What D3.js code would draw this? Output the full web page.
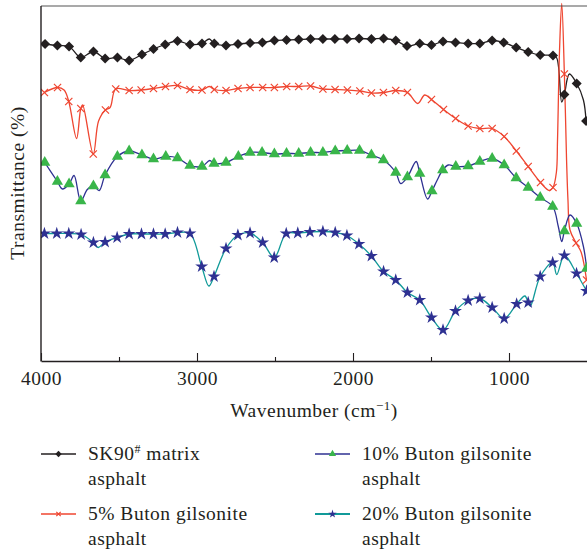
<!DOCTYPE html>
<html>
<head>
<meta charset="utf-8">
<script src="https://cdn.jsdelivr.net/npm/d3@7"></script>
<style>
  body { margin: 0; background: #fff; }
  text { font-family: "Liberation Serif", "DejaVu Serif", serif; fill: #231f20; letter-spacing: 0.5px; }
</style>
</head>
<body>
<div id="chart"></div>
<script>
// [wavenumber, transmittance]; marks carry a symbol, extra are unmarked curve points
let sk90Marks = [[3974,63.4],[3895,63.1],[3820,62.9],[3745,60.7],[3664,61.9],[3589,60.5],[3510,60.7],[3435,60.1],[3353,61.3],[3279,62.4],[3204,63.3],[3125,64.0],[3045,63.3],[2968,63.5],[2889,63.5],[2814,63.1],[2737,63.4],[2660,63.6],[2581,63.7],[2504,64.1],[2426,64.2],[2348,64.3],[2272,64.4],[2193,64.4],[2116,64.4],[2038,64.4],[1961,64.5],[1882,64.4],[1804,64.5],[1726,64.1],[1654,63.0],[1572,63.5],[1497,63.2],[1423,63.9],[1343,63.7],[1262,63.5],[1187,63.5],[1108,64.1],[1034,63.7],[954,62.7],[877,61.8],[800,61.2],[718,61.1],[645,53.3],[566,55.5],[506,48.0]];
let sk90Extra = [[2921,64.4],[694,60.6],[662,51.8],[613,57.4],[523,52.2]];

let bg5Marks = [[3978,53.7],[3894,54.7],[3822,51.9],[3745,50.5],[3665,41.4],[3587,50.2],[3521,54.4],[3435,54.1],[3358,54.2],[3279,54.5],[3202,54.9],[3125,55.1],[3045,54.3],[2968,54.2],[2889,54.3],[2814,54.1],[2737,54.5],[2660,54.7],[2579,54.7],[2504,54.7],[2425,54.9],[2348,54.9],[2272,55.0],[2193,54.4],[2115,54.3],[2036,54.2],[1956,54.0],[1882,53.6],[1805,53.7],[1726,54.1],[1651,53.7],[1497,52.3],[1420,50.3],[1342,48.5],[1262,47.0],[1187,46.5],[1108,46.5],[1031,44.9],[953,42.0],[877,38.9],[798,35.7],[718,34.7],[645,57.4],[570,23.6],[503,16.2]];
let bg5Extra = [[3852,54.2],[3772,44.5],[3733,51.2],[3631,48.0],[3557,50.7],[2921,54.9],[1585,51.5],[1540,53.2],[742,34.1],[696,37.8],[689,44.2],[676,62.2],[662,71.5],[631,40.2],[622,32.2],[609,26.2],[538,21.8]];

let bg10Marks = [[3976,39.7],[3895,35.9],[3820,35.4],[3745,32.0],[3664,35.0],[3589,37.2],[3510,40.9],[3435,42.0],[3353,41.2],[3279,40.4],[3200,40.9],[3125,40.6],[3045,39.1],[2968,38.9],[2891,39.5],[2814,39.7],[2735,40.9],[2660,41.7],[2583,41.7],[2504,41.4],[2426,41.5],[2348,41.5],[2272,41.7],[2193,41.7],[2114,42.0],[2037,42.1],[1958,42.1],[1882,41.2],[1805,40.2],[1726,37.7],[1651,36.8],[1572,37.5],[1494,34.0],[1425,38.2],[1341,38.9],[1262,39.0],[1187,39.9],[1108,40.5],[1031,39.2],[954,36.6],[877,34.7],[800,32.7],[720,30.9],[645,26.0],[566,27.5],[502,18.5]];
let bg10Extra = [[3863,34.4],[3788,37.1],[3703,34.3],[3627,34.1],[2918,40.1],[1694,35.5],[1595,39.9],[1522,32.4],[1463,36.0],[1389,39.2],[684,26.9],[662,23.9],[609,29.2],[523,22.9]];

let bg20Marks = [[3978,25.5],[3899,25.5],[3822,25.5],[3743,25.3],[3664,23.7],[3589,23.8],[3512,24.7],[3435,25.4],[3356,25.4],[3279,25.4],[3204,25.4],[3125,25.7],[3045,25.5],[2970,18.9],[2891,16.9],[2814,22.5],[2738,25.2],[2660,25.6],[2579,23.7],[2505,20.7],[2428,25.5],[2354,25.6],[2276,25.8],[2193,25.9],[2114,25.7],[2039,25.1],[1962,23.4],[1882,21.0],[1804,17.9],[1726,16.2],[1651,13.7],[1572,12.2],[1497,8.7],[1423,6.2],[1343,10.0],[1262,12.1],[1187,12.5],[1108,10.7],[1031,8.5],[951,11.4],[877,11.7],[800,16.9],[720,19.7],[645,21.1],[567,17.5],[503,14.0]];
let bg20Extra = [[3633,22.7],[2924,15.0],[898,13.0],[863,11.0],[694,17.3]];

let majorTicks = [4000, 3000, 2000, 1000];
let minorTicks = [3500, 2500, 1500];

let series = [
  {name: ["SK90", "#", " matrix", "asphalt"], marks: sk90Marks, extra: sk90Extra, line: "#231f20", sym: "diamond", fill: "#231f20"},
  {name: ["5% Buton gilsonite", "", "", "asphalt"], marks: bg5Marks, extra: bg5Extra, line: "#ef4631", sym: "cross", fill: "#ef4631"},
  {name: ["10% Buton gilsonite", "", "", "asphalt"], marks: bg10Marks, extra: bg10Extra, line: "#2e3192", sym: "triangle", fill: "#39b54a"},
  {name: ["20% Buton gilsonite", "", "", "asphalt"], marks: bg20Marks, extra: bg20Extra, line: "#119a99", sym: "star", fill: "#2e3192"}
];

let fs = 19.5;
let svg = d3.select("#chart").append("svg").attr("width", 587).attr("height", 552);
let x = d3.scaleLinear().domain([4000, 500]).range([41, 587]);
let y = d3.scaleLinear().domain([0, 71]).range([361, 6]);

svg.append("defs").append("clipPath").attr("id", "plotClip")
  .append("rect").attr("x", 41).attr("y", 0).attr("width", 546).attr("height", 361);

// marker drawing
function drawMark(g, sym, color, r) {
  if (sym == "diamond") {
    g.append("path").attr("d", `M0,${-r}L${r},0L0,${r}L${-r},0Z`).attr("fill", color);
  } else if (sym == "cross") {
    g.append("path").attr("d", `M${-r},${-r}L${r},${r}M${-r},${r}L${r},${-r}`)
      .attr("stroke", color).attr("stroke-width", 1.2).attr("fill", "none");
  } else if (sym == "triangle") {
    g.append("path").attr("d", d3.symbol(d3.symbolTriangle).size(r * r * 2.2)).attr("fill", color);
  } else {
    g.append("path").attr("d", d3.symbol(d3.symbolStar).size(r * r * 2.1)).attr("fill", color);
  }
}

let plot = svg.append("g").attr("clip-path", "url(#plotClip)");
let line = d3.line().x(d => x(d[0])).y(d => y(d[1])).curve(d3.curveCatmullRom.alpha(0.5));

series.forEach(s => {
  let pts = s.marks.concat(s.extra).sort((a, b) => b[0] - a[0]);
  plot.append("path").attr("d", line(pts)).attr("fill", "none")
    .attr("stroke", s.line).attr("stroke-width", 1.3);
});
series.forEach(s => {
  s.marks.forEach(d => {
    let g = plot.append("g").attr("transform", `translate(${x(d[0])},${y(d[1])})`);
    drawMark(g, s.sym, s.fill, s.sym == "cross" ? 3.6 : 5);
  });
});

// frame and axes
svg.append("line").attr("x1", 41).attr("x2", 587).attr("y1", 6).attr("y2", 6)
  .attr("stroke", "#555").attr("stroke-width", 1.2);
svg.append("line").attr("x1", 41).attr("x2", 41).attr("y1", 6).attr("y2", 361.5)
  .attr("stroke", "#231f20").attr("stroke-width", 1.4);

let xAxis = svg.append("g").attr("transform", "translate(0,361)")
  .call(d3.axisBottom(x).tickValues(majorTicks).tickFormat(d3.format("d"))
    .tickSizeInner(-8).tickSizeOuter(0).tickPadding(10));
xAxis.select(".domain").attr("stroke", "#231f20").attr("stroke-width", 1.4);
xAxis.selectAll(".tick line").attr("stroke", "#231f20").attr("stroke-width", 1.1);
xAxis.selectAll("text").style("font-family", '"Liberation Serif", serif').style("font-size", fs + "px").attr("fill", "#231f20");

let minor = svg.append("g").attr("transform", "translate(0,361)")
  .call(d3.axisBottom(x).tickValues(minorTicks).tickSizeInner(-4).tickSizeOuter(0).tickFormat(""));
minor.select(".domain").remove();
minor.selectAll(".tick line").attr("stroke", "#231f20").attr("stroke-width", 1.1);

let xl = svg.append("text").attr("x", 314).attr("y", 417).attr("font-size", fs).attr("text-anchor", "middle");
xl.append("tspan").text("Wavenumber (cm");
xl.append("tspan").attr("dy", -7).attr("font-size", 13).text("\u22121");
xl.append("tspan").attr("dy", 7).text(")");

svg.append("text").attr("transform", "translate(24,183) rotate(-90)")
  .attr("text-anchor", "middle").attr("font-size", fs).text("Transmittance (%)");

// legend
let legendPos = [[41, 454], [41, 514], [315, 454], [315, 514]];
series.forEach((s, i) => {
  let lx = legendPos[i][0], ly = legendPos[i][1];
  svg.append("line").attr("x1", lx).attr("x2", lx + 35).attr("y1", ly).attr("y2", ly)
    .attr("stroke", s.line).attr("stroke-width", i == 3 ? 2 : 1.3);
  let g = svg.append("g").attr("transform", `translate(${lx + 17.5},${ly})`);
  drawMark(g, s.sym, s.fill, s.sym == "cross" ? 2.2 : 3.2);
  let t = svg.append("text").attr("x", lx + 47).attr("y", ly + 5.5).attr("font-size", fs);
  t.append("tspan").text(s.name[0]);
  if (s.name[1]) {
    t.append("tspan").attr("dy", -7).attr("font-size", 12).text(s.name[1]);
    t.append("tspan").attr("dy", 7).text(s.name[2]);
  }
  svg.append("text").attr("x", lx + 47).attr("y", ly + 30.5).attr("font-size", fs).text(s.name[3]);
});
</script>
</body>
</html>
